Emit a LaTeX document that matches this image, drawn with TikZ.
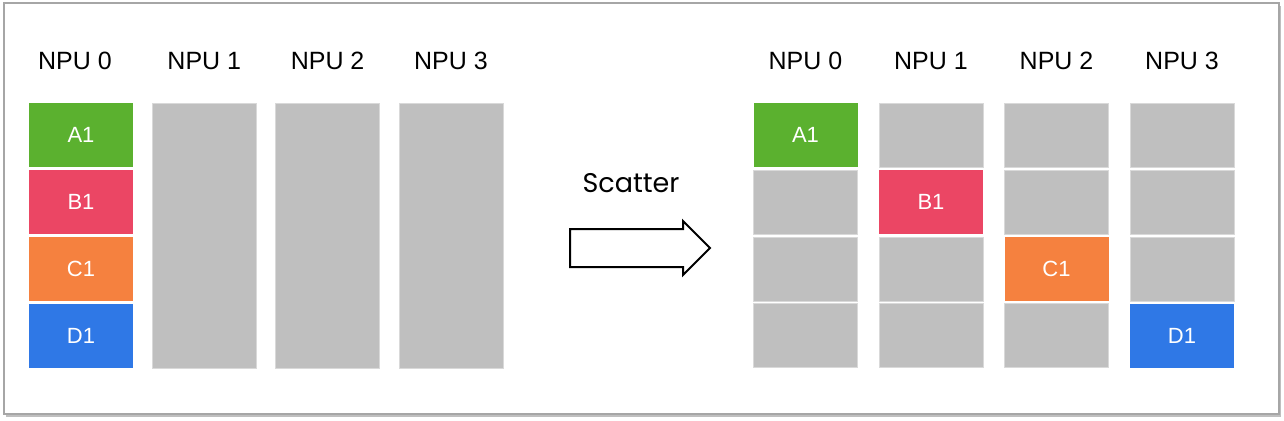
\documentclass[tikz,border=0pt]{standalone}
\usepackage{fontspec}
\setmainfont{Liberation Sans}
\newfontfamily\scatterfont{Poppins}
\usepackage{tikz}

\definecolor{cellgreen}{HTML}{5BB12F}
\definecolor{cellred}{HTML}{EB4664}
\definecolor{cellorange}{HTML}{F5813F}
\definecolor{cellblue}{HTML}{2F78E6}
\definecolor{cellgray}{HTML}{BFBFBF}

\begin{document}
\begin{tikzpicture}[x=0.5pt,y=-0.5pt,
    npu/.style={font=\fontsize{12.5}{14}\selectfont,inner sep=0pt},
    cell/.style={rectangle,minimum width=52pt,minimum height=32pt,inner sep=0pt,
        text=white,font=\fontsize{11}{13}\selectfont},
    blank/.style={cell,fill=cellgray,draw=cellgray!60!white,line width=0.4pt},
    column/.style={blank,minimum height=132.5pt}]
    \useasboundingbox (0,0) rectangle (1284,420);

    % frame with shadow
    \fill[black!25] (6,6) rectangle (1281,416.5);
    \draw[black!35,fill=white,line width=0.6pt] (4,3) rectangle (1279,414);

    % before
    \node[npu] (p0) at (75,61) {NPU 0};
    \node[npu] (p1) at (204.3,61) {NPU 1};
    \node[npu] (p2) at (327.6,61) {NPU 2};
    \node[npu] (p3) at (451,61) {NPU 3};

    \node[cell,fill=cellgreen] (a0) at (81,135) {A1};
    \node[cell,fill=cellred] (b0) at (81,202) {B1};
    \node[cell,fill=cellorange] (c0) at (81,269) {C1};
    \node[cell,fill=cellblue] (d0) at (81,335.5) {D1};

    \node[column] (k1) at (204.3,235.5) {};
    \node[column] (k2) at (327.6,235.5) {};
    \node[column] (k3) at (451,235.5) {};

    % arrow
    \node[font=\scatterfont\fontsize{13.5}{16}\selectfont,inner sep=0pt] (op) at (631,183) {Scatter};
    \draw[line width=1pt,line join=miter]
        (570,229) -- (683,229) -- (683,221) -- (710,248) -- (683,275)
        -- (683,267) -- (570,267) -- cycle;

    % after
    \node[npu] (q0) at (805.5,61) {NPU 0};
    \node[npu] (q1) at (931,61) {NPU 1};
    \node[npu] (q2) at (1056.5,61) {NPU 2};
    \node[npu] (q3) at (1182,61) {NPU 3};

    \node[cell,fill=cellgreen] (r00) at (805.5,135) {A1};
    \node[blank] (r01) at (805.5,202) {};
    \node[blank] (r02) at (805.5,269) {};
    \node[blank] (r03) at (805.5,335.5) {};

    \node[blank] (r10) at (931,135) {};
    \node[cell,fill=cellred] (r11) at (931,202) {B1};
    \node[blank] (r12) at (931,269) {};
    \node[blank] (r13) at (931,335.5) {};

    \node[blank] (r20) at (1056.5,135) {};
    \node[blank] (r21) at (1056.5,202) {};
    \node[cell,fill=cellorange] (r22) at (1056.5,269) {C1};
    \node[blank] (r23) at (1056.5,335.5) {};

    \node[blank] (r30) at (1182,135) {};
    \node[blank] (r31) at (1182,202) {};
    \node[blank] (r32) at (1182,269) {};
    \node[cell,fill=cellblue] (r33) at (1182,335.5) {D1};
\end{tikzpicture}
\end{document}
